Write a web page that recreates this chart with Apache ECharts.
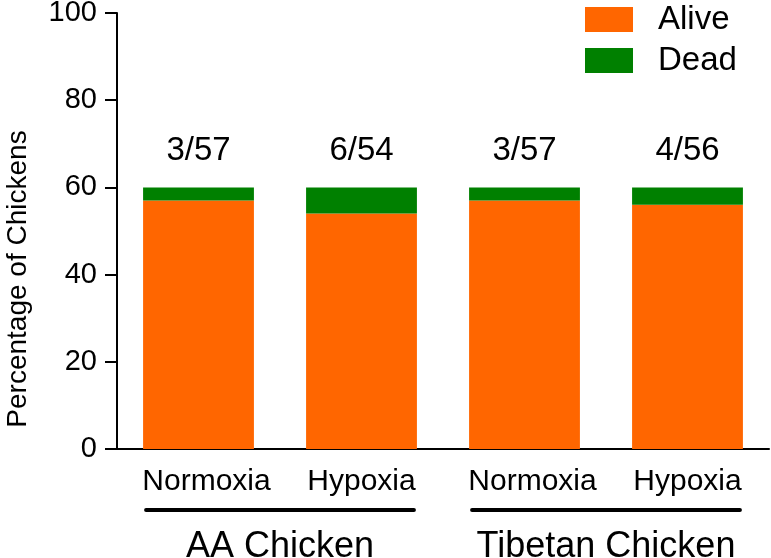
<!DOCTYPE html>
<html>
<head>
<meta charset="utf-8">
<script src="https://cdn.jsdelivr.net/npm/echarts@6/dist/echarts.min.js"></script>
<style>
html,body{margin:0;padding:0;background:#fff;}
#chart{width:771px;height:558px;}
</style>
</head>
<body>
<div id="chart"></div>
<script>
const categories = ['Normoxia', 'Hypoxia', 'Normoxia', 'Hypoxia'];
const groups = ['AA Chicken', 'Tibetan Chicken'];
const alive = [57, 54, 57, 56];
const dead = [3, 6, 3, 4];
const yTicks = [0, 20, 40, 60, 80, 100];

const FONT = 'Liberation Sans, Arial, sans-serif';
const chart = echarts.init(document.getElementById('chart'));

const option = {
  animation: false,
  backgroundColor: '#ffffff',
  textStyle: { fontFamily: FONT, color: '#000' },
  grid: { left: 117, right: 2, top: 13, bottom: 109, containLabel: false, outerBoundsMode: 'none' },
  legend: {
    orient: 'vertical',
    left: 580, top: -2,
    itemWidth: 48, itemHeight: 25, itemGap: 8,
    icon: 'rect',
    textStyle: { fontFamily: FONT, fontSize: 33, color: '#000', padding: [0, 0, 0, 20], lineHeight: 33 },
    data: ['Alive', 'Dead']
  },
  xAxis: [{
    type: 'category',
    data: categories,
    position: 'bottom',
    axisLine: { lineStyle: { color: '#000', width: 2 } },
    axisTick: { alignWithLabel: true, length: 12, lineStyle: { color: '#000', width: 2 } },
    axisLabel: {
      interval: 0,
      fontFamily: FONT, fontSize: 30, color: '#000', margin: 18,
      formatter: function (v) { return v === 'Normoxia' ? '{n|' + v + '}' : '{h|' + v + '}'; },
      rich: {
        n: { fontFamily: FONT, fontSize: 30, color: '#000', padding: [0, 0, 0, 16] },
        h: { fontFamily: FONT, fontSize: 30, color: '#000' }
      }
    }
  }, {
    type: 'category',
    data: groups,
    position: 'bottom',
    offset: 72,
    axisLine: { show: false },
    axisTick: { show: false },
    axisLabel: { interval: 0, fontFamily: FONT, fontSize: 36, color: '#000', margin: 8 }
  }],
  yAxis: {
    type: 'value',
    min: yTicks[0], max: yTicks[yTicks.length - 1], interval: 20,
    name: 'Percentage of Chickens',
    nameLocation: 'middle',
    nameGap: 85,
    nameTextStyle: { fontFamily: FONT, fontSize: 28, color: '#000', padding: [0, 96, 0, 0] },
    axisLine: { show: true, lineStyle: { color: '#000', width: 2 } },
    axisTick: { show: true, length: 12, lineStyle: { color: '#000', width: 2 } },
    axisLabel: { fontFamily: FONT, fontSize: 29, color: '#000', margin: 20 },
    splitLine: { show: false }
  },
  series: [{
    name: 'Alive',
    type: 'bar',
    stack: 'total',
    barWidth: '68%',
    itemStyle: { color: '#FF6600' },
    data: alive
  }, {
    name: 'Dead',
    type: 'bar',
    stack: 'total',
    itemStyle: { color: '#008000' },
    label: {
      show: true, position: 'top', distance: 20,
      fontFamily: FONT, fontSize: 33, color: '#000',
      formatter: function (p) { return dead[p.dataIndex] + '/' + alive[p.dataIndex]; }
    },
    data: dead
  }]
};
chart.setOption(option);

// group underline bars, positioned from the axis scale
const c0 = chart.convertToPixel({ xAxisIndex: 0 }, 0);
const c1 = chart.convertToPixel({ xAxisIndex: 0 }, 1);
const band = c1 - c0;
const half = band * 0.68 / 2;
const y0 = chart.convertToPixel({ yAxisIndex: 0 }, 0);
const lineY = y0 + 61;
const gfx = [];
for (let g = 0; g < groups.length; g++) {
  const a = chart.convertToPixel({ xAxisIndex: 0 }, g * 2);
  const b = chart.convertToPixel({ xAxisIndex: 0 }, g * 2 + 1);
  gfx.push({
    type: 'line',
    shape: { x1: a - half + 3, y1: lineY, x2: b + half - 3, y2: lineY },
    style: { stroke: '#000', lineWidth: 4, lineCap: 'round' }
  });
}
chart.setOption({ graphic: gfx });
</script>
</body>
</html>
